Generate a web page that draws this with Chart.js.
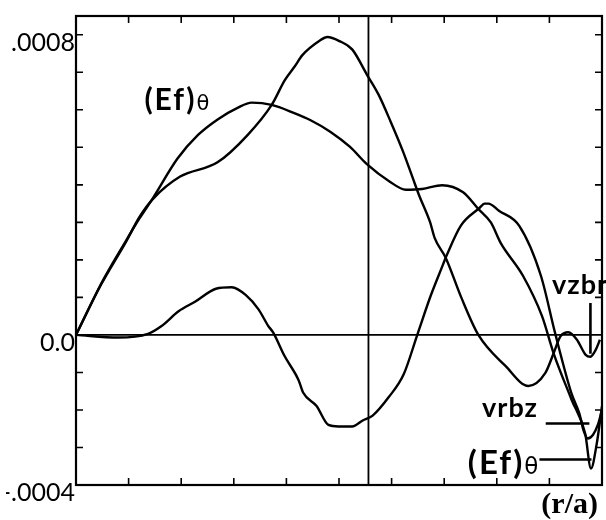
<!DOCTYPE html>
<html lang="en">
<head>
<meta charset="UTF-8">
<title>(Ef)θ, vzbr, vrbz</title>
<script src="https://cdn.jsdelivr.net/npm/chart.js"></script>
<style>
  html, body { margin: 0; padding: 0; background: #fff; }
  .chart-container { position: relative; width: 606px; height: 520px; }
</style>
</head>
<body>
<div class="chart-container"><canvas id="profileChart"></canvas></div>
<script>
// values are in units of 1e-4
const UNIT = 1e-4;

// (Ef)theta
const efR = [0, 0.048, 0.095, 0.121, 0.146, 0.193, 0.232, 0.270, 0.308, 0.334, 0.372, 0.415, 0.446, 0.484,
             0.521, 0.553, 0.596, 0.627, 0.658, 0.696, 0.736, 0.764, 0.789, 0.807, 0.850, 0.886, 0.908,
             0.942, 0.968, 0.979, 0.990, 1.0];
const efVal = [0, 1.37, 2.51, 3.11, 3.64, 4.70, 5.33, 5.75, 6.06, 6.19, 6.13, 5.91, 5.72, 5.41,
               5.01, 4.55, 4.09, 3.87, 3.89, 3.99, 3.80, 3.37, 2.99, 2.46, 1.57, 0.50, -0.49,
               -1.72, -2.63, -3.56, -2.90, -1.90];

// vzbr
const vzR = [0, 0.048, 0.095, 0.121, 0.146, 0.198, 0.269, 0.327, 0.372, 0.397, 0.416, 0.430, 0.463, 0.478,
             0.501, 0.525, 0.553, 0.575, 0.598, 0.622, 0.640, 0.652, 0.673, 0.682, 0.703, 0.733, 0.765,
             0.816, 0.860, 0.892, 0.908, 0.921, 0.936, 0.952, 0.969, 0.978, 0.988, 0.996];
const vzVal = [0, 1.35, 2.48, 3.15, 3.62, 4.22, 4.60, 5.34, 6.13, 6.79, 7.16, 7.45, 7.84, 7.94,
               7.83, 7.61, 6.94, 6.41, 5.69, 4.88, 4.19, 3.73, 3.01, 2.58, 2.05, 0.98, 0,
               -0.82, -1.36, -1.02, -0.49, -0.04, 0.07, -0.12, -0.53, -0.58, -0.40, -0.13];

// vrbz
const vrR = [0, 0.080, 0.137, 0.162, 0.195, 0.227, 0.266, 0.296, 0.323, 0.347, 0.365, 0.375, 0.396, 0.423,
             0.432, 0.457, 0.480, 0.499, 0.525, 0.545, 0.564, 0.595, 0.623, 0.649, 0.675, 0.695, 0.705,
             0.732, 0.766, 0.777, 0.784, 0.804, 0.843, 0.884, 0.911, 0.942, 0.957, 0.965, 0.973, 0.983,
             0.992, 1.0];
const vrVal = [0, -0.07, 0.03, 0.23, 0.63, 0.89, 1.23, 1.27, 1.06, 0.68, 0.25, 0.06, -0.55, -1.20,
               -1.54, -1.89, -2.40, -2.44, -2.44, -2.28, -2.15, -1.65, -1.05, 0.01, 1.07, 1.78, 2.13,
               2.92, 3.37, 3.50, 3.50, 3.31, 2.90, 1.57, 0.04, -1.56, -2.10, -2.55, -2.76, -2.66,
               -2.40, -2.00];

// axis ticks
const yLabelVals = [0.0008, 0, -0.0004];
const yLabelText = ['.0008', '0.0', '-.0004'];
const yMinorTicks = [-3, -2, -1, 1, 2, 3, 4, 5, 6, 7, 8];
const xMinorTicks = [0.1, 0.2, 0.3, 0.4, 0.5, 0.6, 0.7, 0.8, 0.9];
const markerR = 0.556;

function toPoints(rs, vals) {
    return rs.map((r, i) => ({ x: r, y: vals[i] * UNIT }));
}

function curve(data) {
    return {
        data: data,
        borderColor: '#000',
        borderWidth: 2.4,
        pointRadius: 0,
        fill: false,
        cubicInterpolationMode: 'monotone'
    };
}

// frame, inward ticks, zero line, marker line and curve labels
const framePlugin = {
    id: 'framePlugin',
    afterDatasetsDraw(chart) {
        const { ctx, chartArea: a, scales: { x, y } } = chart;
        ctx.save();
        ctx.strokeStyle = '#000';

        ctx.lineWidth = 1.8;
        ctx.beginPath();
        const y0 = y.getPixelForValue(0);
        ctx.moveTo(a.left, y0);
        ctx.lineTo(a.right, y0);
        const xm = x.getPixelForValue(markerR);
        ctx.moveTo(xm, a.top);
        ctx.lineTo(xm, a.bottom);
        ctx.stroke();

        ctx.lineWidth = 1.6;
        ctx.beginPath();
        xMinorTicks.forEach(v => {
            const px = x.getPixelForValue(v);
            ctx.moveTo(px, a.bottom); ctx.lineTo(px, a.bottom - 7);
            ctx.moveTo(px, a.top); ctx.lineTo(px, a.top + 7);
        });
        yMinorTicks.forEach(v => {
            const py = y.getPixelForValue(v * UNIT);
            ctx.moveTo(a.left, py); ctx.lineTo(a.left + 7, py);
            ctx.moveTo(a.right, py); ctx.lineTo(a.right - 7, py);
        });
        ctx.stroke();

        ctx.lineWidth = 2.2;
        ctx.strokeRect(a.left, a.top, a.width, a.height);

        // label helpers
        ctx.fillStyle = '#000';
        ctx.textBaseline = 'alphabetic';
        function efLabel(px, py, size, thetaSize) {
            ctx.font = 'bold ' + size + 'px Lato, "DejaVu Sans", sans-serif';
            ctx.letterSpacing = '2px';
            ctx.fillText('(Ef)', px, py);
            const w = ctx.measureText('(Ef)').width;
            ctx.letterSpacing = '0px';
            ctx.font = thetaSize + 'px "DejaVu Sans", sans-serif';
            ctx.fillText('θ', px + w, py);
            return px + w + ctx.measureText('θ').width;
        }

        efLabel(x.getPixelForValue(0.13), y.getPixelForValue(6.0 * UNIT), 30, 21);

        ctx.font = 'bold 27px Lato, sans-serif';
        ctx.letterSpacing = '1px';
        ctx.fillText('vzbr', x.getPixelForValue(0.905), y.getPixelForValue(1.1 * UNIT));
        ctx.fillText('vrbz', x.getPixelForValue(0.772), y.getPixelForValue(-2.2 * UNIT));
        ctx.letterSpacing = '0px';
        const efEnd = efLabel(x.getPixelForValue(0.745), y.getPixelForValue(-3.7 * UNIT), 33, 23);

        ctx.lineWidth = 2.6;
        ctx.beginPath();
        // vzbr pointer
        const xv = x.getPixelForValue(0.978);
        ctx.moveTo(xv, y.getPixelForValue(0.85 * UNIT));
        ctx.lineTo(xv, y.getPixelForValue(-0.5 * UNIT));
        // vrbz pointer
        ctx.moveTo(x.getPixelForValue(0.893), y.getPixelForValue(-2.36 * UNIT));
        ctx.lineTo(x.getPixelForValue(0.976), y.getPixelForValue(-2.36 * UNIT));
        // (Ef)theta pointer
        ctx.moveTo(efEnd + 1, y.getPixelForValue(-3.32 * UNIT));
        ctx.lineTo(x.getPixelForValue(0.98), y.getPixelForValue(-3.32 * UNIT));
        ctx.stroke();

        // axis title
        ctx.font = 'bold 30px "Liberation Serif", serif';
        ctx.textAlign = 'right';
        ctx.fillText('(r/a)', a.right - 4, a.bottom + 28);
        ctx.restore();
    }
};

const chart = new Chart(document.getElementById('profileChart'), {
    type: 'line',
    data: {
        datasets: [
            curve(toPoints(efR, efVal)),
            curve(toPoints(vzR, vzVal)),
            curve(toPoints(vrR, vrVal))
        ]
    },
    options: {
        responsive: true,
        maintainAspectRatio: false,
        animation: false,
        layout: { padding: { left: 6, top: 15, right: 4, bottom: 35 } },
        plugins: { legend: { display: false }, tooltip: { enabled: false } },
        scales: {
            x: {
                type: 'linear',
                min: 0,
                max: 1,
                display: false
            },
            y: {
                type: 'linear',
                min: -0.0004,
                max: 0.00085,
                grid: { display: false, drawTicks: false },
                border: { display: false },
                afterFit(scale) { scale.width = 70; },
                afterBuildTicks(scale) {
                    scale.ticks = yLabelVals.map(v => ({ value: v }));
                },
                ticks: {
                    padding: 1,
                    labelOffset: 8,
                    color: '#000',
                    font: { family: 'Lato', size: 25 },
                    callback(value) {
                        const i = yLabelVals.findIndex(v => Math.abs(v - value) < 1e-9);
                        return i >= 0 ? yLabelText[i] : '';
                    }
                }
            }
        }
    },
    plugins: [framePlugin]
});
</script>
</body>
</html>
